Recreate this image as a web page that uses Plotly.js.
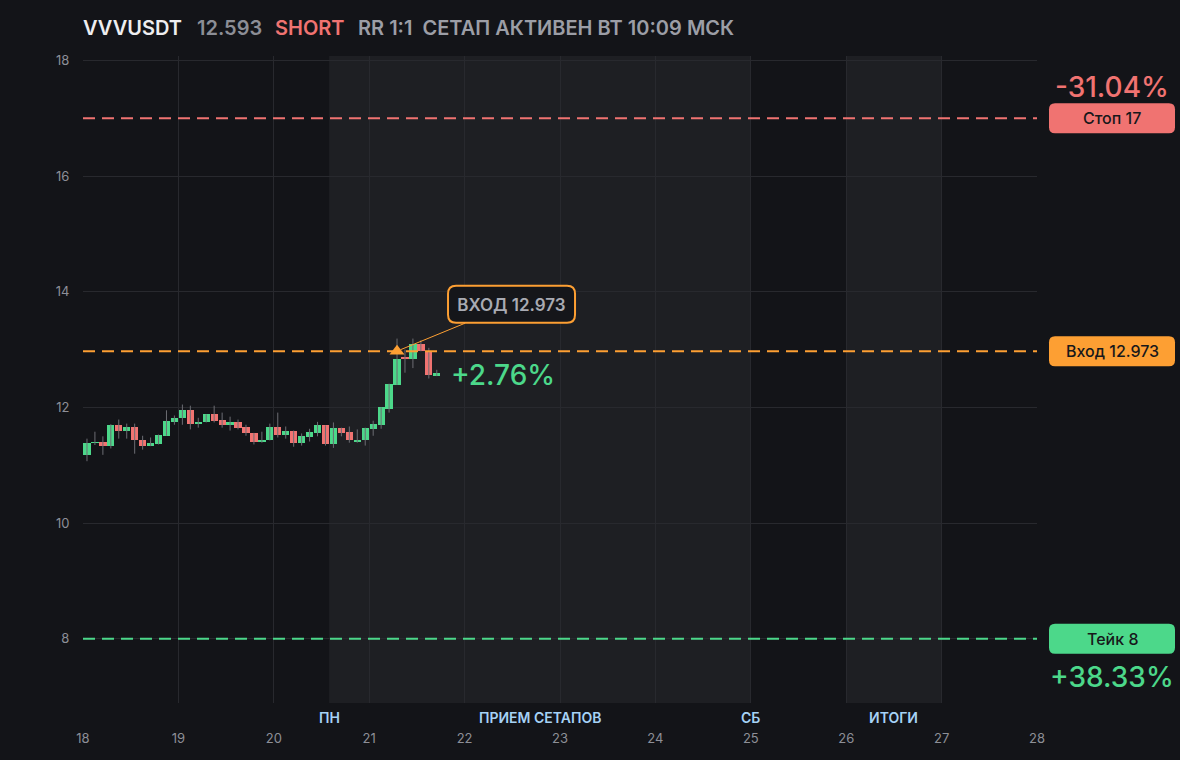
<!DOCTYPE html>
<html><head><meta charset="utf-8">
<script src="https://cdn.plot.ly/plotly-3.0.1.min.js"></script>
<style>html,body{margin:0;padding:0;background:#131418;}#chart{width:1180px;height:760px;}</style>
</head><body><div id="chart"></div>
<script>
// ---- data ----
const symbol = 'VVVUSDT';
const lastPrice = '12.593';
const side = 'SHORT';
const infoText = 'RR 1:1  СЕТАП АКТИВЕН ВТ 10:09 МСК';
// candle time in hours from day 18 00:00 (2h candles, centered)
const candleHours = [1,3,5,7,9,11,13,15,17,19,21,23,25,27,29,31,33,35,37,39,41,43,45,47,49,51,53,55,57,59,61,63,65,67,69,71,73,75,77,79,81,83,85,87,89];
const opens  = [11.18,11.38,11.41,11.33,11.70,11.60,11.67,11.44,11.33,11.37,11.51,11.75,11.81,11.95,11.72,11.74,11.88,11.79,11.69,11.75,11.67,11.56,11.41,11.43,11.67,11.53,11.60,11.39,11.48,11.56,11.69,11.37,11.65,11.58,11.41,11.43,11.63,11.70,11.98,12.39,12.88,12.84,13.09,12.97,12.55];
const highs  = [11.46,11.58,11.50,11.71,11.79,11.72,11.72,11.51,11.48,11.53,11.95,11.86,12.05,12.03,11.82,11.88,12.03,11.91,11.84,11.79,11.70,11.56,11.58,11.72,11.91,11.67,11.60,11.55,11.63,11.75,11.69,11.74,11.65,11.67,11.62,11.65,11.77,12.00,12.41,13.19,13.00,13.19,13.16,13.03,12.65];
const lows   = [11.07,11.35,11.18,11.29,11.46,11.46,11.20,11.27,11.33,11.36,11.51,11.70,11.70,11.62,11.65,11.74,11.74,11.65,11.60,11.62,11.51,11.36,11.39,11.43,11.48,11.46,11.32,11.34,11.41,11.50,11.34,11.30,11.50,11.39,11.39,11.34,11.51,11.63,11.91,12.39,12.60,12.68,12.97,12.50,12.54];
const closes = [11.39,11.41,11.33,11.70,11.60,11.67,11.43,11.33,11.39,11.53,11.77,11.82,11.95,11.72,11.75,11.88,11.77,11.69,11.75,11.65,11.55,11.41,11.44,11.67,11.53,11.60,11.39,11.50,11.58,11.69,11.37,11.65,11.56,11.43,11.44,11.65,11.72,12.00,12.41,12.83,12.84,13.09,12.97,12.56,12.59];
const entryIndex = 39;
const entryPrice = 12.973;
const stopPrice = 17;
const takePrice = 8;
const stopPctText = '-31.04%';
const takePctText = '+38.33%';
const currentPctText = '+2.76%';
const entryLabel = 'ВХОД 12.973';
const stopLabel = 'Стоп 17';
const entryBadge = 'Вход 12.973';
const takeLabel = 'Тейк 8';
const dayTicks = [18,19,20,21,22,23,24,25,26,27,28];
const priceTicks = [8,10,12,14,16,18];
const sessionStarts = [20.58, 26];
const sessionEnds   = [25, 27];
const sessionLabels = ['ПН','ПРИЕМ СЕТАПОВ','СБ','ИТОГИ'];
const sessionLabelX = [20.58, 22.79, 25, 26.5];

// ---- styles ----
const GREEN = '#4cd88a', RED = '#f07371', ORANGE = '#fd9f33';
const BG = '#131418', SHADE = '#1e1f23', GRID = '#28292e';
const FONT = 'Inter, "Noto Sans", sans-serif';

const times = candleHours.map(h => 18 + h / 24);
const wx = [], wy = [];
times.forEach((t, i) => { wx.push(t, t, null); wy.push(lows[i], highs[i], null); });
const bodyBase = opens.map((o, i) => Math.min(o, closes[i]));
const bodyLen = opens.map((o, i) => Math.max(Math.abs(closes[i] - o), 0.012));
const bodyCol = opens.map((o, i) => closes[i] >= o ? GREEN : RED);

const traces = [
  {type: 'scatter', mode: 'lines', x: wx, y: wy, line: {color: '#6c6d73', width: 1}, hoverinfo: 'skip', showlegend: false},
  {type: 'bar', x: times, y: bodyLen, base: bodyBase, width: 0.076, marker: {color: bodyCol, line: {width: 0}}, showlegend: false, hoverinfo: 'skip'},
  {type: 'scatter', mode: 'markers', x: [times[entryIndex]], y: [entryPrice], marker: {symbol: 'triangle-up', size: 13, color: ORANGE, line: {width: 0}}, showlegend: false, hoverinfo: 'skip'}
];

function rr(w, h, r) {
  const a = w / 2, b = h / 2;
  return `M ${-a + r},${-b} L ${a - r},${-b} Q ${a},${-b} ${a},${-b + r} L ${a},${b - r} Q ${a},${b} ${a - r},${b} L ${-a + r},${b} Q ${-a},${b} ${-a},${b - r} L ${-a},${-b + r} Q ${-a},${-b} ${-a + r},${-b} Z`;
}
function rrOff(w, h, r, dx, dy) {
  const a = w / 2, b = h / 2;
  const X = v => v + dx, Y = v => v + dy;
  return `M ${X(-a + r)},${Y(-b)} L ${X(a - r)},${Y(-b)} Q ${X(a)},${Y(-b)} ${X(a)},${Y(-b + r)} L ${X(a)},${Y(b - r)} Q ${X(a)},${Y(b)} ${X(a - r)},${Y(b)} L ${X(-a + r)},${Y(b)} Q ${X(-a)},${Y(b)} ${X(-a)},${Y(b - r)} L ${X(-a)},${Y(-b + r)} Q ${X(-a)},${Y(-b)} ${X(-a + r)},${Y(-b)} Z`;
}

const L = 83, R = 143, T = 56, B = 57, W = 1180 - L - R, H = 760 - T - B;
const px2paperX = p => (p - L) / W;
const badgeX = px2paperX(1112);

const shapes = [];
sessionStarts.forEach((s, i) => shapes.push({type: 'rect', xref: 'x', yref: 'paper', x0: s, x1: sessionEnds[i], y0: 0, y1: 1, fillcolor: SHADE, line: {width: 0}, layer: 'below'}));
[[stopPrice, RED], [entryPrice, ORANGE], [takePrice, GREEN]].forEach(([v, c]) => {
  shapes.push({type: 'line', xref: 'paper', x0: 0, x1: 1, yref: 'y', y0: v, y1: v, line: {color: c, width: 2, dash: '12px,7px'}, layer: 'above'});
  shapes.push({type: 'path', xref: 'paper', yref: 'y', xsizemode: 'pixel', ysizemode: 'pixel', xanchor: badgeX, yanchor: v, path: rr(126, 30, 6), fillcolor: c, line: {width: 0}, layer: 'above'});
});
shapes.push({type: 'path', xref: 'x', yref: 'y', xsizemode: 'pixel', ysizemode: 'pixel', xanchor: times[entryIndex], yanchor: entryPrice, path: rrOff(127, 37, 8, 114.5, 47), fillcolor: '#15161a', line: {color: ORANGE, width: 2}, layer: 'above'});

const ann = [];
const hdrY = 1 + (T - 28) / H;
[[symbol, 81, '#eeeef0'], [lastPrice, 195, '#8c8e96'], [side, 273, RED], [infoText.replace(/ /g, '\u00a0'), 356, '#9c9ea6']].forEach(([t, p, c]) => {
  ann.push({text: t, xref: 'paper', yref: 'paper', x: px2paperX(p), y: hdrY, xanchor: 'left', yanchor: 'middle', showarrow: false, font: {family: FONT, size: 20, color: c, weight: 600}});
});
[[stopLabel, stopPrice], [entryBadge, entryPrice], [takeLabel, takePrice]].forEach(([t, v]) => {
  ann.push({text: t, xref: 'paper', yref: 'y', x: badgeX, y: v, xanchor: 'center', yanchor: 'middle', showarrow: false, font: {family: FONT, size: 16, color: '#17181b', weight: 500}});
});
ann.push({text: stopPctText, xref: 'paper', yref: 'y', x: badgeX, y: stopPrice, yshift: 31, xanchor: 'center', yanchor: 'middle', showarrow: false, font: {family: FONT, size: 28, color: RED, weight: 500}});
ann.push({text: takePctText, xref: 'paper', yref: 'y', x: badgeX, y: takePrice, yshift: -38, xanchor: 'center', yanchor: 'middle', showarrow: false, font: {family: FONT, size: 28, color: GREEN, weight: 500}});
ann.push({text: currentPctText, xref: 'x', yref: 'y', x: times[times.length - 1], y: closes[closes.length - 1], xshift: 12, yshift: -2, xanchor: 'left', yanchor: 'middle', showarrow: false, font: {family: FONT, size: 28, color: GREEN, weight: 500}});
ann.push({text: entryLabel, xref: 'x', yref: 'y', x: times[entryIndex], y: entryPrice, ax: 114.5, ay: -47, showarrow: true, arrowhead: 0, arrowwidth: 1, arrowcolor: ORANGE, standoff: 4, width: 125, height: 35, borderpad: 1, bgcolor: 'rgba(0,0,0,0)', font: {family: FONT, size: 17, color: '#a9abb3', weight: 600}});
sessionLabels.forEach((t, i) => ann.push({text: t, xref: 'x', yref: 'paper', x: sessionLabelX[i], y: 0, yshift: -14, xanchor: 'center', yanchor: 'middle', showarrow: false, font: {family: FONT, size: 14, color: '#a6d2f6', weight: 600}}));

const layout = {
  width: 1180, height: 760,
  margin: {l: L, r: R, t: T, b: B},
  paper_bgcolor: BG, plot_bgcolor: BG,
  showlegend: false, bargap: 0,
  xaxis: {range: [18, 28], tickvals: dayTicks, ticktext: dayTicks.map(String), gridcolor: GRID, gridwidth: 1, zeroline: false, showline: false, ticks: 'outside', ticklen: 23, tickcolor: 'rgba(0,0,0,0)', tickfont: {family: FONT, size: 13, color: '#8d8f97'}, fixedrange: true},
  yaxis: {range: [6.89, 18.075], tickvals: priceTicks, ticktext: priceTicks.map(String), gridcolor: GRID, gridwidth: 1, zeroline: false, showline: false, ticks: 'outside', ticklen: 10, tickcolor: 'rgba(0,0,0,0)', tickfont: {family: FONT, size: 13, color: '#8d8f97'}, fixedrange: true},
  shapes: shapes,
  annotations: ann
};
Plotly.newPlot('chart', traces, layout, {displayModeBar: false, staticPlot: true});
</script>
</body></html>
